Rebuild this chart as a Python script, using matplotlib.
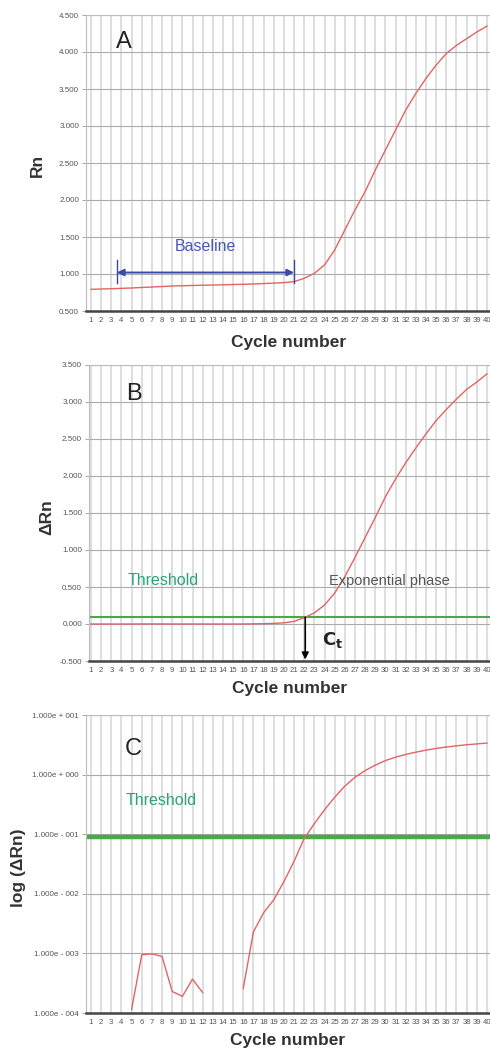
import matplotlib
matplotlib.use("Agg")
import matplotlib.pyplot as plt
import numpy as np

plt.rcParams["font.family"] = ["Liberation Sans", "DejaVu Sans"]

# ---- data -------------------------------------------------------------
cycles = list(range(1, 41))

# raw reporter signal (Rn)
rn = [0.793, 0.797, 0.801, 0.806, 0.811, 0.818, 0.824, 0.831, 0.838, 0.841,
      0.845, 0.848, 0.851, 0.854, 0.858, 0.861, 0.865, 0.871, 0.877, 0.883,
      0.897, 0.941, 1.009, 1.122, 1.324, 1.595, 1.865, 2.113, 2.405, 2.676,
      2.946, 3.216, 3.441, 3.644, 3.824, 3.980, 4.090, 4.180, 4.270, 4.350]

# baseline-corrected signal (delta Rn)
delta_rn = [-4e-4, -3e-4, -2e-4, -1e-4, 1.15e-4, 9.5e-4, 9.8e-4, 8.9e-4, 2.3e-4, 1.9e-4,
            3.7e-4, 2.2e-4, -1e-4, -2e-4, -1e-4, 2.6e-4, 2.3e-3, 4.8e-3, 7.9e-3, 0.016,
            0.035, 0.085, 0.150, 0.257, 0.417, 0.640, 0.900, 1.170, 1.440, 1.720,
            1.960, 2.180, 2.380, 2.570, 2.750, 2.900, 3.040, 3.170, 3.270, 3.380]

threshold = 0.09
baseline_range = (3.56, 21.0)
ct_cycle = 22.1

rn_ticks = [0.5, 1.0, 1.5, 2.0, 2.5, 3.0, 3.5, 4.0, 4.5]
drn_ticks = [-0.5, 0.0, 0.5, 1.0, 1.5, 2.0, 2.5, 3.0, 3.5]
log_ticks = [1e-4, 1e-3, 1e-2, 1e-1, 1e0, 1e1]
log_tick_labels = ["1.000e - 004", "1.000e - 003", "1.000e - 002",
                   "1.000e - 001", "1.000e + 000", "1.000e + 001"]

# ---- styling ------------------------------------------------------------
W, H = 490, 1052
CURVE = "#e26464"
GREEN_TXT = "#2aa37c"
GREEN_LINE = "#4aa84a"
LABEL_C = "#333333"
TICK_C = "#555555"


def panel_axes(fig, left, top, bottom, right=490):
    return fig.add_axes([left / W, 1 - bottom / H, (right - left) / W, (bottom - top) / H])


def style(ax, xlo):
    ax.set_xlim(xlo, 40.3)
    ax.set_xticks(cycles)
    ax.set_xticklabels([str(c) for c in cycles])
    ax.tick_params(axis="x", length=0, pad=4, labelsize=5.6, colors=TICK_C)
    ax.tick_params(axis="y", length=3, width=0.6, color="#999999", pad=2,
                   labelsize=5.8, labelcolor=TICK_C)
    ax.grid(axis="x", color="#d4d4d4", lw=1.1, zorder=0)
    ax.grid(axis="y", which="major", color="#ababab", lw=0.8, zorder=0)
    ax.set_axisbelow(True)
    for s in ("top", "left", "right"):
        ax.spines[s].set_color("#bdbdbd")
        ax.spines[s].set_linewidth(0.8)
    ax.spines["bottom"].set_color("#444444")
    ax.spines["bottom"].set_linewidth(1.8)
    ax.set_xlabel("Cycle number", fontsize=12.5, fontweight="bold", color=LABEL_C, va="center")


fig = plt.figure(figsize=(W / 100, H / 100), dpi=100)

# ---- A: raw amplification curve ----------------------------------------
axA = panel_axes(fig, 86, 15, 311)
style(axA, 0.51)
axA.plot(cycles, rn, color=CURVE, lw=1.0, zorder=3)
axA.set_ylim(0.5, 4.5)
axA.set_yticks(rn_ticks)
axA.set_yticklabels([f"{v:.3f}" for v in rn_ticks])
axA.set_ylabel("Rn", fontsize=12.5, fontweight="bold", color=LABEL_C, va="center")
axA.yaxis.set_label_coords(-0.121, 0.493)
axA.xaxis.set_label_coords(0.502, -(342 - 311) / 296)
axA.text(0.094, 0.909, "A", transform=axA.transAxes, fontsize=17,
         ha="center", va="center", color="#222222")
axA.annotate("", xy=(baseline_range[0], 1.02), xytext=(baseline_range[1], 1.02),
             arrowprops=dict(arrowstyle="<|-|>", color="#3a48a8", lw=1.4,
                             mutation_scale=10, shrinkA=0, shrinkB=0), zorder=4)
for bx in baseline_range:
    axA.plot([bx, bx], [0.875, 1.19], color="#3a48a8", lw=1.0, zorder=4)
axA.text(12.3, 1.37, "Baseline", fontsize=11.5, color="#4a58bc",
         ha="center", va="center")

# ---- B: baseline-corrected curve ---------------------------------------
axB = panel_axes(fig, 89, 365, 661)
style(axB, 0.8)
axB.plot(cycles, delta_rn, color=CURVE, lw=1.0, zorder=3)
axB.axhline(threshold, color=GREEN_LINE, lw=1.5, zorder=2)
axB.set_ylim(-0.5, 3.5)
axB.set_yticks(drn_ticks)
axB.set_yticklabels([f"{v:.3f}" for v in drn_ticks])
axB.set_ylabel("\u0394Rn", fontsize=12.5, fontweight="bold", color=LABEL_C, va="center")
axB.yaxis.set_label_coords(-0.105, 0.4875)
axB.xaxis.set_label_coords(0.5, -(689 - 661) / 296)
axB.text(0.112, 0.902, "B", transform=axB.transAxes, fontsize=17,
         ha="center", va="center", color="#222222")
axB.text(4.65, 0.585, "Threshold", fontsize=11.5, color=GREEN_TXT, ha="left", va="center")
axB.text(24.45, 0.575, "Exponential phase", fontsize=10.5, color="#555555",
         ha="left", va="center")
axB.annotate("", xy=(ct_cycle, -0.48), xytext=(ct_cycle, threshold),
             arrowprops=dict(arrowstyle="-|>", color="black", lw=1.2,
                             mutation_scale=10, shrinkA=0, shrinkB=0), zorder=5)
axB.text(24.8, -0.216, r"$\mathbf{C}_\mathbf{t}$", fontsize=13, color="#222222",
         ha="center", va="center")

# ---- C: log-scale curve ------------------------------------------------
axC = panel_axes(fig, 86, 715, 1013)
style(axC, 0.51)
log_vals = np.array(delta_rn, dtype=float)
log_vals[log_vals <= 0] = np.nan
axC.plot(cycles, log_vals, color=CURVE, lw=1.0, zorder=3)
axC.axhline(threshold, color=GREEN_LINE, lw=3.2, zorder=2)
axC.set_yscale("log")
axC.set_ylim(1e-4, 1e1)
axC.set_yticks(log_ticks)
axC.set_yticklabels(log_tick_labels)
axC.yaxis.set_minor_locator(matplotlib.ticker.NullLocator())
axC.set_ylabel("log (\u0394Rn)", fontsize=12.5, fontweight="bold", color=LABEL_C, va="center")
axC.yaxis.set_label_coords(-0.168, 0.487)
axC.xaxis.set_label_coords(0.5, -(1041 - 1013) / 298)
axC.text(0.116, 0.886, "C", transform=axC.transAxes, fontsize=17,
         ha="center", va="center", color="#222222")
axC.text(4.45, 0.374, "Threshold", fontsize=11.5, color=GREEN_TXT, ha="left", va="center")

fig.savefig("out.png", dpi=100, facecolor="white")
